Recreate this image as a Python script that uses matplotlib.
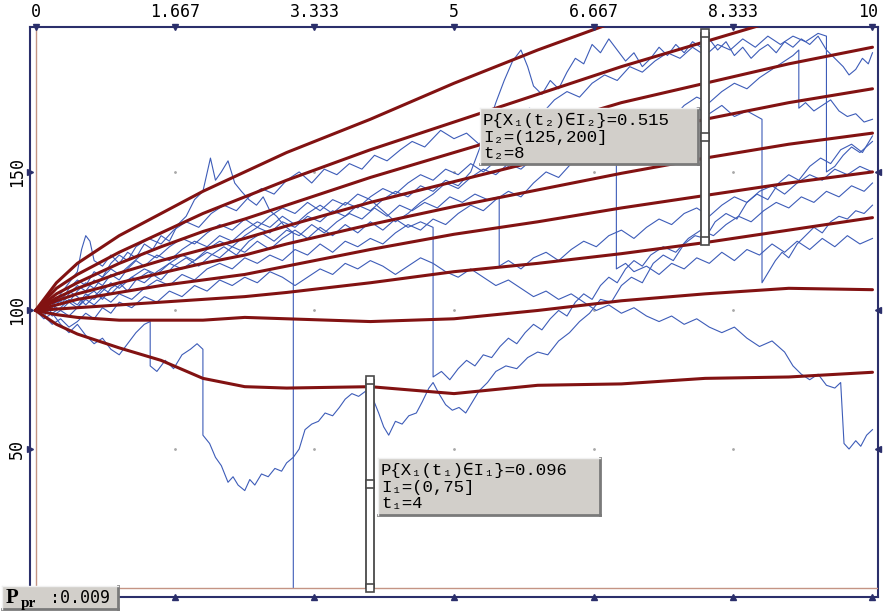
import numpy as np
import matplotlib.pyplot as plt
from matplotlib.patches import Rectangle

# axis ticks
t_ticks = [0, 1.667, 3.333, 5, 6.667, 8.333, 10]
t_labels = ["0", "1.667", "3.333", "5", "6.667", "8.333", "10"]
y_ticks = [50, 100, 150]

# probability readouts
t1, I1, p1 = 4, (0, 75), 0.096
t2, I2, p2 = 8, (125, 200), 0.515
p_pr = 0.009

# quantile curves (dark red), sampled at q_t
q_t = [0, 0.25, 0.5, 1, 1.5, 2, 2.5, 3, 4, 5, 6, 7, 8, 9, 10]
q1 = [100, 110, 117, 127, 135, 143, 150, 157, 169, 182, 194, 205, 215, 225, 234]
q2 = [100, 108, 113, 121, 128, 135, 141, 147, 158, 168, 178, 188, 197, 206, 214]
q3 = [100, 106, 110, 117, 123, 128.5, 133, 138, 148, 157, 166, 175, 182, 189, 195]
q4 = [100, 104.5, 108, 113.5, 118, 122, 126, 130.5, 139, 146.5, 154, 161.5, 169, 175, 180]
q5 = [100, 103.5, 106, 110, 113.5, 117, 120, 124, 131, 137.5, 143.5, 149.5, 155, 160, 164]
q6 = [100, 102, 104, 106.5, 109, 111, 113, 116, 122, 127.5, 132, 137, 141.5, 146, 150]
q7 = [100, 100.5, 101, 102, 103, 104, 105, 106.5, 110, 114, 117, 120.5, 124.5, 129, 133.5]
q8 = [100, 98.5, 97.5, 96.5, 96.5, 96.5, 97.5, 97, 96, 97, 100, 103.5, 106, 108, 107.5]
q9 = [100, 95, 91.5, 86.5, 82, 75.5, 72.5, 72, 72.5, 70, 73, 73.5, 75.5, 76, 77.7]

# simulated paths (blue), (t, value) pairs
path1 = [(0, 100), (0.1, 97), (0.2, 99), (0.3, 95), (0.4, 92), (0.5, 95), (0.6, 91), (0.7, 88), (0.8, 90),
         (0.9, 86), (1.0, 84), (1.1, 88), (1.2, 92), (1.3, 95), (1.37, 96), (1.37, 80), (1.45, 78), (1.55, 82),
         (1.65, 79), (1.75, 84), (1.85, 86), (1.93, 88), (2.0, 86), (2.0, 55), (2.08, 52), (2.15, 47), (2.22, 44),
         (2.3, 38), (2.36, 40), (2.42, 37), (2.5, 35), (2.56, 39), (2.62, 37), (2.7, 41), (2.78, 40), (2.86, 43),
         (2.94, 42), (3.0, 45), (3.08, 47), (3.15, 50), (3.22, 57), (3.3, 59), (3.38, 60), (3.46, 63), (3.55, 62),
         (3.63, 65), (3.7, 68), (3.78, 70), (3.86, 69), (3.95, 71), (4.02, 69), (4.1, 63), (4.16, 58), (4.22, 55),
         (4.3, 60), (4.38, 59), (4.46, 62), (4.55, 63), (4.62, 67), (4.7, 72), (4.75, 74), (4.82, 70), (4.9, 66),
         (4.98, 64), (5.06, 65), (5.14, 63), (5.22, 67), (5.3, 71), (5.4, 74), (5.5, 78), (5.62, 80), (5.75, 79),
         (5.88, 83), (6.0, 85), (6.12, 84), (6.25, 89), (6.38, 92), (6.5, 96), (6.62, 99), (6.75, 104), (6.88, 103),
         (7.0, 109), (7.12, 112), (7.25, 110), (7.38, 117), (7.5, 120), (7.62, 118), (7.75, 124), (7.88, 127),
         (8.0, 126), (8.12, 132), (8.25, 135), (8.38, 133), (8.5, 139), (8.62, 142), (8.75, 140), (8.88, 146),
         (9.0, 149), (9.12, 147), (9.25, 152), (9.38, 155), (9.5, 153), (9.62, 158), (9.75, 160), (9.88, 157),
         (10, 163)]
path2 = [(0, 100), (0.1, 103), (0.2, 101), (0.3, 106), (0.4, 110), (0.5, 114), (0.55, 122), (0.6, 127),
         (0.65, 125), (0.7, 118), (0.8, 116), (0.9, 120), (1.0, 117), (1.1, 121), (1.2, 119), (1.3, 124),
         (1.4, 122), (1.5, 127), (1.6, 125), (1.7, 131), (1.8, 134), (1.9, 140), (2.0, 143), (2.09, 155),
         (2.15, 147), (2.22, 150), (2.3, 154), (2.38, 146), (2.46, 143), (2.55, 140), (2.64, 138), (2.72, 141),
         (2.8, 136), (2.88, 134), (2.96, 131), (3.04, 129), (3.08, 128), (3.08, 0)]
path3 = [(0, 100), (0.1, 102), (0.2, 105), (0.3, 103), (0.4, 108), (0.5, 111), (0.6, 109), (0.7, 114),
         (0.8, 112), (0.9, 117), (1.0, 120), (1.1, 118), (1.2, 123), (1.35, 126), (1.5, 124), (1.65, 129),
         (1.8, 132), (1.95, 130), (2.1, 135), (2.25, 138), (2.4, 136), (2.55, 141), (2.7, 144), (2.85, 142),
         (3.0, 147), (3.15, 150), (3.3, 146), (3.45, 151), (3.6, 149), (3.75, 153), (3.9, 151), (4.05, 156),
         (4.2, 154), (4.36, 158), (4.5, 161), (4.65, 159), (4.84, 165), (5.0, 162), (5.15, 164), (5.3, 160),
         (5.45, 166), (5.6, 170), (5.75, 168), (5.9, 173), (6.05, 171), (6.2, 176), (6.35, 179), (6.5, 177),
         (6.65, 182), (6.8, 185), (6.95, 183), (7.1, 188), (7.25, 186), (7.4, 190), (7.55, 193), (7.7, 191),
         (7.85, 195), (8.0, 192), (8.15, 196), (8.3, 194), (8.45, 198), (8.6, 195), (8.75, 199), (8.9, 196),
         (9.05, 199), (9.2, 197), (9.35, 200), (9.45, 199), (9.45, 150), (9.55, 152), (9.65, 156), (9.75, 159),
         (9.85, 157), (10, 161)]
path4 = [(0, 100), (0.1, 98), (0.2, 102), (0.3, 105), (0.4, 103), (0.5, 107), (0.6, 110), (0.7, 108),
         (0.8, 112), (0.9, 115), (1.0, 113), (1.15, 117), (1.3, 121), (1.45, 119), (1.6, 123), (1.75, 126),
         (1.9, 124), (2.05, 128), (2.2, 131), (2.35, 129), (2.5, 133), (2.65, 130), (2.8, 134), (2.95, 137),
         (3.1, 135), (3.25, 139), (3.4, 136), (3.55, 140), (3.7, 138), (3.85, 142), (4.0, 140), (4.15, 136),
         (4.3, 132), (4.45, 135), (4.6, 139), (4.75, 142), (4.9, 146), (5.05, 144), (5.2, 148), (5.35, 151),
         (5.5, 149), (5.65, 153), (5.8, 151), (5.95, 155), (6.1, 153), (6.25, 157), (6.4, 159), (6.55, 157),
         (6.7, 161), (6.85, 164), (7.0, 162), (7.15, 166), (7.3, 164), (7.45, 168), (7.6, 171), (7.75, 169),
         (7.9, 173), (8.05, 171), (8.2, 174), (8.35, 170), (8.5, 172), (8.68, 169), (8.68, 110), (8.76, 114),
         (8.84, 118), (8.92, 121), (9.0, 119), (9.1, 124), (9.2, 127), (9.3, 130), (9.4, 128), (9.5, 132),
         (9.6, 134), (9.7, 133), (9.8, 136), (9.9, 135), (10, 138)]
path5 = [(0, 100), (0.1, 101), (0.2, 98), (0.3, 100), (0.4, 103), (0.5, 101), (0.6, 105), (0.7, 107),
         (0.8, 104), (0.9, 108), (1.0, 110), (1.1, 107), (1.2, 111), (1.35, 114), (1.5, 111), (1.65, 116),
         (1.8, 119), (1.95, 116), (2.1, 120), (2.25, 123), (2.4, 120), (2.55, 125), (2.7, 128), (2.85, 125),
         (3.0, 129), (3.15, 127), (3.3, 131), (3.45, 128), (3.6, 132), (3.75, 135), (3.9, 133), (4.05, 137),
         (4.2, 134), (4.35, 138), (4.5, 136), (4.65, 139), (4.8, 137), (4.95, 141), (5.1, 139), (5.25, 142),
         (5.4, 140), (5.54, 141), (5.54, 116), (5.65, 118), (5.8, 115), (5.95, 119), (6.1, 121), (6.25, 118),
         (6.4, 122), (6.55, 125), (6.7, 123), (6.85, 127), (7.0, 129), (7.15, 126), (7.3, 130), (7.45, 133),
         (7.6, 131), (7.75, 135), (7.9, 137), (8.05, 134), (8.2, 138), (8.35, 141), (8.5, 139), (8.65, 143),
         (8.8, 145), (8.95, 142), (9.1, 146), (9.25, 149), (9.4, 147), (9.55, 151), (9.7, 149), (9.85, 152),
         (10, 150)]
path6 = [(0, 100), (0.1, 98), (0.2, 95), (0.3, 97), (0.4, 94), (0.5, 96), (0.6, 99), (0.7, 97), (0.8, 101),
         (0.9, 99), (1.0, 103), (1.15, 101), (1.3, 105), (1.45, 103), (1.6, 107), (1.75, 105), (1.9, 109),
         (2.05, 107), (2.2, 111), (2.35, 109), (2.5, 112), (2.65, 110), (2.8, 114), (2.95, 112), (3.1, 109),
         (3.25, 112), (3.4, 115), (3.55, 113), (3.7, 117), (3.85, 115), (4.0, 118), (4.15, 116), (4.3, 113),
         (4.45, 116), (4.6, 119), (4.75, 117), (4.9, 114), (5.05, 112), (5.2, 115), (5.35, 112), (5.5, 109),
         (5.65, 111), (5.8, 108), (5.95, 105), (6.1, 107), (6.25, 104), (6.4, 106), (6.55, 103), (6.7, 100),
         (6.85, 102), (7.0, 99), (7.15, 101), (7.3, 98), (7.45, 96), (7.6, 98), (7.75, 95), (7.9, 97),
         (8.05, 94), (8.2, 92), (8.35, 94), (8.5, 90), (8.65, 87), (8.8, 89), (8.95, 85), (9.05, 80),
         (9.15, 77), (9.25, 75), (9.35, 77), (9.45, 73), (9.55, 72), (9.62, 74), (9.66, 52), (9.72, 50),
         (9.8, 53), (9.86, 51), (9.93, 55), (10, 57)]
path7 = [(0, 100), (0.1, 103), (0.2, 100), (0.3, 104), (0.4, 107), (0.5, 105), (0.6, 102), (0.7, 105),
         (0.8, 108), (0.9, 106), (1.0, 109), (1.15, 112), (1.3, 110), (1.45, 114), (1.6, 117), (1.75, 115),
         (1.9, 118), (2.05, 121), (2.2, 119), (2.35, 123), (2.5, 121), (2.65, 125), (2.8, 122), (2.95, 126),
         (3.1, 129), (3.25, 126), (3.4, 130), (3.55, 127), (3.7, 131), (3.85, 128), (4.0, 132), (4.15, 129),
         (4.3, 133), (4.45, 130), (4.6, 132), (4.75, 130), (4.75, 76), (4.85, 78), (4.95, 75), (5.05, 79),
         (5.15, 82), (5.25, 80), (5.35, 84), (5.45, 83), (5.55, 87), (5.65, 90), (5.75, 88), (5.85, 92),
         (5.95, 95), (6.05, 93), (6.15, 97), (6.25, 100), (6.35, 98), (6.45, 103), (6.55, 106), (6.65, 104),
         (6.75, 109), (6.85, 112), (6.95, 110), (7.05, 115), (7.15, 118), (7.25, 116), (7.35, 120), (7.5, 123),
         (7.65, 121), (7.8, 126), (7.95, 129), (8.1, 127), (8.25, 131), (8.4, 134), (8.55, 132), (8.7, 136),
         (8.85, 139), (9.0, 137), (9.15, 141), (9.3, 139), (9.45, 143), (9.6, 141), (9.75, 145), (9.9, 143),
         (10, 146)]
path8 = [(0, 100), (0.1, 102), (0.2, 99), (0.3, 101), (0.4, 104), (0.5, 102), (0.6, 106), (0.7, 104),
         (0.8, 107), (0.9, 110), (1.0, 108), (1.15, 112), (1.3, 115), (1.45, 113), (1.6, 117), (1.75, 120),
         (1.9, 118), (2.05, 122), (2.2, 125), (2.35, 123), (2.5, 127), (2.65, 130), (2.8, 128), (2.95, 132),
         (3.1, 130), (3.25, 134), (3.4, 132), (3.55, 136), (3.7, 134), (3.85, 138), (4.0, 136), (4.15, 140),
         (4.3, 143), (4.45, 141), (4.6, 145), (4.75, 143), (4.9, 147), (5.05, 145), (5.2, 150), (5.3, 158),
         (5.4, 166), (5.5, 175), (5.6, 183), (5.7, 190), (5.8, 194), (5.88, 188), (5.95, 181), (6.05, 178),
         (6.15, 183), (6.25, 180), (6.35, 186), (6.45, 191), (6.55, 189), (6.65, 196), (6.75, 193), (6.85, 198),
         (6.95, 194), (7.05, 190), (7.15, 193), (7.25, 188), (7.35, 191), (7.45, 195), (7.55, 192), (7.65, 196),
         (7.75, 193), (7.85, 197), (7.95, 195), (8.05, 198), (8.15, 194), (8.25, 197), (8.35, 192), (8.45, 195),
         (8.55, 191), (8.65, 194), (8.75, 196), (8.85, 193), (8.95, 197), (9.05, 195), (9.15, 198), (9.25, 196),
         (9.35, 199), (9.45, 194), (9.55, 191), (9.65, 188), (9.72, 185), (9.8, 187), (9.88, 191), (9.95, 189),
         (10, 193)]
path9 = [(0, 100), (0.1, 99), (0.2, 102), (0.3, 100), (0.4, 98), (0.5, 101), (0.6, 104), (0.7, 102),
         (0.8, 105), (0.9, 103), (1.0, 106), (1.15, 104), (1.3, 108), (1.45, 111), (1.6, 109), (1.75, 113),
         (1.9, 111), (2.05, 115), (2.2, 117), (2.35, 115), (2.5, 119), (2.65, 117), (2.8, 120), (2.95, 118),
         (3.1, 122), (3.25, 120), (3.4, 124), (3.55, 121), (3.7, 125), (3.85, 123), (4.0, 126), (4.15, 124),
         (4.3, 128), (4.45, 131), (4.6, 129), (4.75, 133), (4.9, 131), (5.05, 135), (5.2, 138), (5.35, 136),
         (5.5, 140), (5.65, 143), (5.8, 141), (5.95, 146), (6.1, 150), (6.25, 148), (6.4, 153), (6.55, 157),
         (6.7, 155), (6.85, 160), (7.0, 164), (7.15, 162), (7.3, 167), (7.45, 171), (7.6, 169), (7.75, 174),
         (7.9, 177), (8.05, 175), (8.2, 179), (8.35, 182), (8.5, 180), (8.65, 184), (8.8, 187), (8.95, 190),
         (9.05, 192), (9.12, 194), (9.12, 173), (9.2, 175), (9.3, 172), (9.4, 174), (9.5, 176), (9.6, 172),
         (9.7, 170), (9.8, 171), (9.9, 168), (10, 169)]
path10 = [(0, 100), (0.1, 101), (0.2, 104), (0.3, 102), (0.4, 106), (0.5, 109), (0.6, 107), (0.7, 111),
          (0.8, 109), (0.9, 113), (1.0, 111), (1.1, 115), (1.2, 118), (1.3, 116), (1.45, 120), (1.6, 118),
          (1.75, 122), (1.9, 125), (2.05, 123), (2.2, 127), (2.35, 125), (2.5, 129), (2.65, 132), (2.8, 130),
          (2.95, 134), (3.1, 131), (3.25, 135), (3.4, 138), (3.55, 135), (3.7, 139), (3.85, 137), (4.0, 141),
          (4.15, 144), (4.3, 142), (4.45, 146), (4.6, 149), (4.75, 147), (4.9, 151), (5.05, 149), (5.2, 153),
          (5.35, 150), (5.5, 154), (5.65, 152), (5.8, 156), (5.95, 153), (6.1, 157), (6.25, 155), (6.4, 159),
          (6.55, 156), (6.7, 160), (6.85, 157), (6.94, 158), (6.94, 115), (7.05, 117), (7.15, 114), (7.3, 116),
          (7.45, 113), (7.6, 117), (7.75, 115), (7.9, 119), (8.05, 117), (8.2, 121), (8.35, 118), (8.5, 122),
          (8.65, 120), (8.8, 124), (8.95, 121), (9.1, 125), (9.25, 122), (9.4, 126), (9.55, 123), (9.7, 127),
          (9.85, 124), (10, 126)]

paths = [path1, path2, path3, path4, path5, path6, path7, path8, path9, path10]
quantiles = [q1, q2, q3, q4, q5, q6, q7, q8, q9]

navy = '#2b2f6b'
blue = '#3d5cb8'
red = '#821212'
mono = ['DejaVu Sans Mono']
courier = ['Liberation Mono', 'DejaVu Sans Mono']

fig = plt.figure(figsize=(8.84, 6.13), dpi=100)
ax = fig.add_axes([30 / 884, 16 / 613, 848 / 884, 570 / 613])
ax.set_xlim(-0.066, 10.066)
ax.set_ylim(-3.4, 202.3)
ax.set_xticks([])
ax.set_yticks([])
for s in ax.spines.values():
    s.set_color(navy)
    s.set_linewidth(1.5)

# inner axis lines at t=0 and x=0
ax.axvline(0, color='#c49484', lw=1.0, zorder=1)
ax.axhline(0, color='#c49484', lw=1.0, zorder=4)

# faint grid dots
for tx in t_ticks[1:-1]:
    for yy in y_ticks:
        ax.plot(tx, yy, '.', color='#a8a8a8', ms=2, zorder=1)

for p in paths:
    arr = np.array(p)
    ax.plot(arr[:, 0], arr[:, 1], color=blue, lw=0.8, zorder=2)

for q in quantiles:
    ax.plot(q_t, q, color=red, lw=2.2, zorder=3, solid_capstyle='round')

# tick triangles on the frame
y0, y1 = ax.get_ylim()
x0, x1 = ax.get_xlim()
ax.plot(t_ticks, [y1] * len(t_ticks), 'v', color=navy, ms=5, clip_on=False, zorder=7)
ax.plot(t_ticks, [y0] * len(t_ticks), '^', color=navy, ms=5, clip_on=False, zorder=7)
ax.plot([x0] * len(y_ticks), y_ticks, '>', color=navy, ms=5, clip_on=False, zorder=7)
ax.plot([x1] * len(y_ticks), y_ticks, '<', color=navy, ms=5, clip_on=False, zorder=7)

for tx, lab in zip(t_ticks, t_labels):
    ha = 'right' if tx == t_ticks[-1] else 'center'
    xx = x1 if tx == t_ticks[-1] else tx
    ax.text(xx, y1 + 2.0, lab, ha=ha, va='bottom', fontsize=12, family=mono)
for yy in y_ticks:
    ax.text(x0 - 0.05, yy, str(yy), ha='right', va='center', rotation=90, fontsize=12, family=mono)


# interval bars
def interval_bar(t, lo, hi):
    w = 0.1
    ax.add_patch(Rectangle((t - w / 2, lo), w, hi - lo, fc='white', ec='#4a4a4a', lw=1.3, zorder=6))
    ax.plot([t, t], [lo, hi], 's', ms=6, mfc='white', mec='#4a4a4a', mew=1.2, zorder=7, clip_on=False)
    ax.plot([t], [(lo + hi) / 2], 's', ms=6, mfc='white', mec='#4a4a4a', mew=1.2, zorder=7)


interval_bar(t1, I1[0], I1[1])
interval_bar(t2, I2[0], I2[1])

# overlay in pixel coordinates for the readout boxes
ov = fig.add_axes([0, 0, 1, 1], zorder=10)
ov.set_xlim(0, 884)
ov.set_ylim(613, 0)
ov.axis('off')


def readout(x, y, w, h):
    ov.add_patch(Rectangle((x, y), w, h, fc='#d2cfca', ec='none'))
    ov.plot([x, x + w], [y + h, y + h], color='#7a7a7a', lw=2)
    ov.plot([x + w, x + w], [y, y + h], color='#7a7a7a', lw=2)
    ov.plot([x, x + w], [y, y], color='#f0f0f0', lw=1)
    ov.plot([x, x], [y, y + h], color='#f0f0f0', lw=1)


readout(480, 108, 218, 56)
ov.text(483, 125, f"P{{X\u2081(t\u2082)\u2208I\u2082}}={p2:.3f}", fontsize=12.5, family=courier, va='baseline')
ov.text(483, 142, f"I\u2082=({I2[0]},{I2[1]}]", fontsize=12.5, family=courier, va='baseline')
ov.text(483, 158, f"t\u2082={t2}", fontsize=12.5, family=courier, va='baseline')

readout(378, 458, 222, 57)
ov.text(381, 475, f"P{{X\u2081(t\u2081)\u2208I\u2081}}={p1:.3f}", fontsize=12.5, family=courier, va='baseline')
ov.text(381, 492, f"I\u2081=({I1[0]},{I1[1]}]", fontsize=12.5, family=courier, va='baseline')
ov.text(381, 508, f"t\u2081={t1}", fontsize=12.5, family=courier, va='baseline')

readout(2, 586, 116, 23)
ov.text(6, 603, "P", fontsize=15, family='Liberation Serif', weight='bold', va='baseline')
ov.text(21, 607, "pr", fontsize=11, family='Liberation Serif', weight='bold', va='baseline')
ov.text(50, 603, f":{p_pr:.3f}", fontsize=12, family=mono, va='baseline')

fig.savefig('out.png', dpi=100)
